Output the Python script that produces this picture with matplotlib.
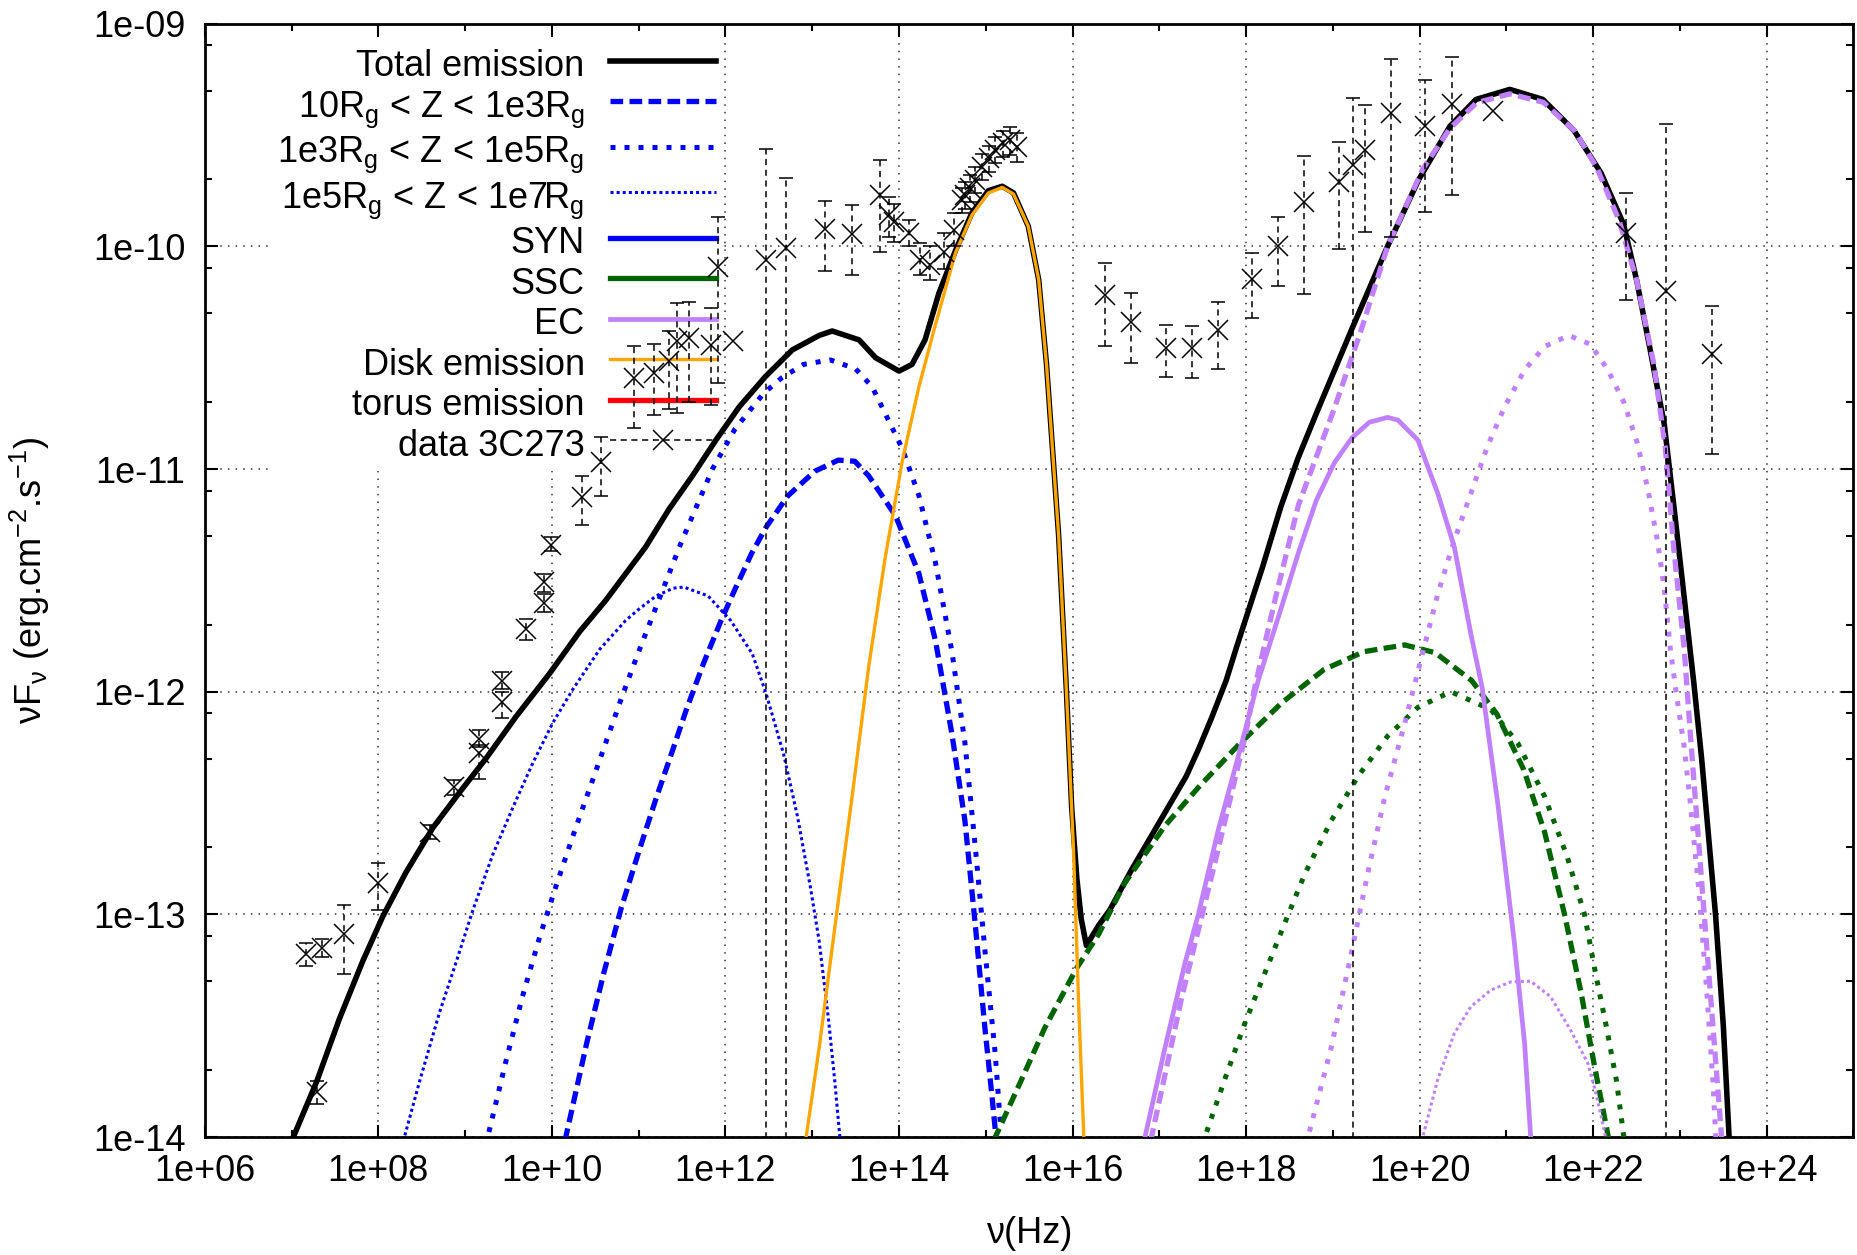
import numpy as np
import matplotlib
matplotlib.use("Agg")
import matplotlib.pyplot as plt
from matplotlib.ticker import FixedLocator, FuncFormatter, NullFormatter, LogLocator
from matplotlib.lines import Line2D

plt.rcParams['font.family'] = ['Liberation Sans', 'DejaVu Sans']
plt.rcParams['font.size'] = 26

BLUE = '#0000ff'
GREEN = '#006400'
PURPLE = '#c080ff'
ORANGE = '#ffa500'
RED = '#ff0000'

# model curves: log10(nu/Hz) and log10(nuFnu)
total_lognu = [6.98, 7.02, 7.29, 7.55, 7.82, 8.05, 8.32, 8.63, 8.94, 9.24, 9.59, 9.97,
               10.32, 10.62, 11.08, 11.35, 11.62, 11.89, 12.16, 12.46, 12.77, 13.08,
               13.23, 13.54, 13.73, 14.0, 14.15, 14.30, 14.46, 14.65, 14.84, 15.03,
               15.19, 15.32, 15.49, 15.61, 15.70, 15.84, 15.93, 15.99, 16.05, 16.10,
               16.16, 16.30, 16.43, 16.68, 17.01, 17.31, 17.45, 17.60, 17.77, 17.89,
               18.19, 18.40, 18.60, 18.81, 19.22, 19.63, 19.99, 20.35, 20.65, 21.04,
               21.42, 21.78, 22.09, 22.35, 22.50, 22.65, 22.82, 22.94, 23.05, 23.16,
               23.25, 23.33, 23.41, 23.50, 23.58]
total_logf = [-14.1, -14.0, -13.75, -13.47, -13.21, -13.01, -12.81, -12.61, -12.45, -12.30,
              -12.11, -11.92, -11.73, -11.59, -11.35, -11.18, -11.03, -10.87, -10.72,
              -10.585, -10.465, -10.40, -10.38, -10.42, -10.50, -10.56, -10.53, -10.42,
              -10.21, -10.02, -9.85, -9.75, -9.73, -9.76, -9.91, -10.15, -10.53, -11.30,
              -12.0, -12.52, -12.84, -13.02, -13.14, -13.05, -12.98, -12.80, -12.58,
              -12.38, -12.26, -12.12, -11.95, -11.80, -11.44, -11.17, -10.95, -10.75,
              -10.37, -10.0, -9.70, -9.46, -9.34, -9.295, -9.34, -9.48, -9.67, -9.90,
              -10.15, -10.45, -10.80, -11.20, -11.58, -11.96, -12.30, -12.65, -13.0,
              -13.5, -14.1]

syn1_lognu = [10.10, 10.16, 10.40, 10.60, 10.80, 11.0, 11.2, 11.35, 11.55, 11.75, 11.95,
              12.11, 12.30, 12.47, 12.72, 13.03, 13.30, 13.49, 13.65, 13.96, 14.23, 14.42,
              14.61, 14.76, 14.88, 14.99, 15.07, 15.13]
syn1_logf = [-14.1, -14.0, -13.58, -13.26, -12.97, -12.72, -12.48, -12.31, -12.08, -11.87,
             -11.68, -11.54, -11.38, -11.26, -11.12, -11.01, -10.96, -10.965, -11.03,
             -11.21, -11.47, -11.77, -12.19, -12.58, -13.05, -13.51, -13.81, -14.05]

syn2_lognu = [9.20, 9.26, 9.47, 9.66, 9.86, 10.05, 10.24, 10.43, 10.62, 10.80, 11.0, 11.25,
              11.49, 11.85, 12.11, 12.44, 12.65, 12.90, 13.21, 13.50, 13.69, 13.84, 14.04,
              14.23, 14.42, 14.61, 14.76, 14.88, 14.99, 15.11, 15.17]
syn2_logf = [-14.1, -14.0, -13.66, -13.37, -13.10, -12.87, -12.65, -12.44, -12.23, -12.03,
             -11.82, -11.57, -11.33, -11.0, -10.82, -10.66, -10.59, -10.53, -10.51, -10.55,
             -10.63, -10.75, -10.91, -11.12, -11.42, -11.82, -12.23, -12.70, -13.16,
             -13.63, -13.95]

syn3_lognu = [8.25, 8.30, 8.475, 8.705, 8.90, 9.09, 9.32, 9.55, 9.78, 10.01, 10.24, 10.55,
              10.85, 11.0, 11.20, 11.40, 11.52, 11.80, 12.06, 12.31, 12.47, 12.67, 12.83,
              12.98, 13.08, 13.19, 13.26, 13.33]
syn3_logf = [-14.1, -14.0, -13.75, -13.44, -13.21, -12.98, -12.73, -12.52, -12.32, -12.14,
             -11.99, -11.81, -11.68, -11.63, -11.57, -11.535, -11.53, -11.57, -11.68,
             -11.83, -12.01, -12.28, -12.56, -12.88, -13.12, -13.48, -13.75, -14.05]

disk_lognu = [12.90, 12.93, 13.08, 13.27, 13.46, 13.65, 13.84, 14.04, 14.23, 14.40, 14.65,
              14.84, 15.03, 15.19, 15.32, 15.49, 15.61, 15.70, 15.84, 15.93, 16.01, 16.05,
              16.07, 16.10, 16.14]
disk_logf = [-14.1, -14.0, -13.6, -13.03, -12.47, -11.89, -11.40, -10.96, -10.63, -10.38,
             -10.03, -9.86, -9.76, -9.735, -9.765, -9.91, -10.15, -10.53, -11.30, -12.0,
             -12.70, -13.16, -13.40, -13.70, -14.1]

ssc1_lognu = [15.08, 15.11, 15.38, 15.68, 16.05, 16.30, 16.60, 17.07, 17.45, 17.91, 18.41,
              18.90, 19.36, 19.83, 20.18, 20.60, 20.89, 21.20, 21.44, 21.67, 21.86, 22.01,
              22.10, 22.20]
ssc1_logf = [-14.1, -14.0, -13.77, -13.51, -13.24, -13.09, -12.86, -12.60, -12.43, -12.24,
             -12.05, -11.90, -11.82, -11.79, -11.825, -11.95, -12.10, -12.35, -12.63,
             -13.0, -13.35, -13.67, -13.85, -14.05]

ssc2_lognu = [17.48, 17.525, 17.755, 17.985, 18.215, 18.445, 18.675, 18.98, 19.29, 19.63,
              19.98, 20.36, 20.82, 21.13, 21.44, 21.70, 21.90, 22.03, 22.15, 22.27, 22.37]
ssc2_logf = [-14.1, -14.0, -13.74, -13.49, -13.265, -13.04, -12.82, -12.58, -12.38, -12.20,
             -12.07, -12.0, -12.08, -12.23, -12.47, -12.74, -13.0, -13.27, -13.5, -13.75,
             -14.05]

ec_lognu = [16.80, 16.835, 17.065, 17.295, 17.45, 17.68, 17.91, 18.14, 18.40, 18.60, 18.81,
            19.02, 19.22, 19.42, 19.63, 19.75, 19.98, 20.21, 20.40, 20.59, 20.72, 20.90,
            21.09, 21.21, 21.28, 21.31]
ec_logf = [-14.1, -14.0, -13.6, -13.22, -13.0, -12.62, -12.29, -11.95, -11.63, -11.38,
           -11.14, -10.97, -10.86, -10.79, -10.768, -10.78, -10.87, -11.11, -11.35, -11.74,
           -11.98, -12.50, -13.12, -13.58, -14.0, -14.15]

ec1_lognu = [16.86, 16.91, 17.26, 17.64, 17.99, 18.10, 18.35, 18.605, 19.015, 19.323, 19.63,
             20.04, 20.35, 20.656, 21.04, 21.426, 21.785, 22.04, 22.30, 22.50, 22.70, 22.83,
             22.93, 23.05, 23.12, 23.25, 23.37, 23.45, 23.50]
ec1_logf = [-14.1, -14.0, -13.37, -12.77, -12.20, -11.98, -11.56, -11.16, -10.73, -10.38,
            -10.0, -9.65, -9.47, -9.355, -9.315, -9.353, -9.48, -9.645, -9.885, -10.15,
            -10.53, -10.90, -11.36, -11.81, -12.19, -12.85, -13.45, -13.85, -14.1]

ec2_lognu = [18.68, 18.714, 18.98, 19.21, 19.40, 19.60, 19.83, 19.98, 20.21, 20.40, 20.59,
             20.78, 20.98, 21.21, 21.44, 21.72, 21.97, 22.17, 22.36, 22.51, 22.63, 22.74,
             22.82, 22.89, 22.97, 23.05, 23.12, 23.22, 23.31, 23.38, 23.42]
ec2_logf = [-14.1, -14.0, -13.60, -13.18, -12.82, -12.47, -12.14, -11.91, -11.56, -11.32,
            -11.11, -10.90, -10.72, -10.555, -10.45, -10.40, -10.44, -10.555, -10.705,
            -10.885, -11.09, -11.32, -11.54, -11.81, -12.04, -12.25, -12.50, -12.90,
            -13.35, -13.75, -14.05]

ec3_lognu = [20.00, 20.036, 20.21, 20.40, 20.59, 20.82, 21.05, 21.28, 21.51, 21.74, 21.94,
             22.03, 22.10, 22.17]
ec3_logf = [-14.1, -14.0, -13.74, -13.535, -13.415, -13.34, -13.303, -13.30, -13.37, -13.52,
            -13.67, -13.80, -13.92, -14.05]

# data 3C273: log10 nu, log10 nuFnu, error bar low / high ends (log10)
data_lognu = [7.17, 7.29, 7.355, 7.60, 8.00, 8.59, 8.875, 9.165, 9.165, 9.425, 9.43, 9.70,
              9.905, 9.91, 9.986, 10.346, 10.565, 10.948, 11.178, 11.35, 11.446, 11.58,
              11.83, 11.918, 12.087, 12.462, 12.694, 13.153, 13.46, 13.786, 13.89, 13.94,
              14.12, 14.246, 14.361, 14.514, 14.629, 14.725, 14.763, 14.821, 14.878,
              14.955, 15.032, 15.108, 15.204, 15.281, 15.358, 16.375, 16.673, 17.074,
              17.372, 17.675, 18.07, 18.368, 18.671, 19.067, 19.231, 19.375, 19.667,
              20.063, 20.371, 20.844, 22.374, 22.836, 23.366]
data_logf = [-13.18, -13.80, -13.15, -13.09, -12.86, -12.63, -12.43, -12.276, -12.214,
             -12.045, -11.95, -11.72, -11.60, -11.506, -11.341, -11.124, -10.967, -10.592,
             -10.57, -10.517, -10.423, -10.413, -10.443, -10.094, -10.423, -10.061,
             -10.009, -9.924, -9.945, -9.769, -9.86, -9.89, -9.942, -10.061, -10.084,
             -10.024, -9.927, -9.792, -9.769, -9.74, -9.702, -9.642, -9.605, -9.567,
             -9.537, -9.522, -9.552, -10.219, -10.338, -10.455, -10.455, -10.376,
             -10.148, -10.0, -9.799, -9.71, -9.635, -9.567, -9.403, -9.458, -9.361,
             -9.391, -9.939, -10.199, -10.483]
data_loglo = [-13.23, -13.85, -13.19, -13.27, -12.98, -12.66, -12.465, -12.39, -12.25,
              -12.12, -11.99, -11.77, -11.64, -11.55, -11.37, -11.25, -11.12, -10.817,
              -10.757, -10.73, -10.75, -10.697, -10.712, -10.615, -10.423, -15.0, -15.0,
              -10.109, -10.129, -10.024, -9.957, -9.98, -10.0, -10.13, -10.15, -10.10,
              -10.0, -9.85, -9.83, -9.80, -9.76, -9.70, -9.665, -9.625, -9.60, -9.59,
              -9.62, -10.446, -10.525, -10.585, -10.59, -10.552, -10.32, -10.177,
              -10.214, -10.013, -15.0, -9.934, -9.957, -9.844, -9.77, -9.391, -10.241,
              -15.0, -10.934]
data_loghi = [-13.13, -13.75, -13.11, -12.96, -12.77, -12.60, -12.395, -12.24, -12.17,
              -12.0, -11.91, -11.675, -11.56, -11.47, -11.305, -11.03, -10.855, -10.447,
              -10.44, -10.38, -10.255, -10.248, -10.278, -9.867, -10.423, -9.563, -9.692,
              -9.795, -9.814, -9.612, -9.777, -9.81, -9.88, -9.985, -10.0, -9.94, -9.85,
              -9.74, -9.71, -9.68, -9.645, -9.585, -9.55, -9.51, -9.48, -9.465, -9.49,
              -10.073, -10.208, -10.353, -10.357, -10.249, -10.028, -9.87, -9.594, -9.53,
              -9.335, -9.365, -9.159, -9.255, -9.149, -9.391, -9.762, -9.45, -10.268]


def p(a):
    return 10.0 ** np.array(a)


fig = plt.figure(figsize=(18.57, 12.55), dpi=100)
ax = fig.add_axes([0.1103, 0.094, 0.8878, 0.8871])
ax.set_xscale('log')
ax.set_yscale('log')
ax.set_xlim(1e6, 1e25)
ax.set_ylim(1e-14, 1e-9)

dash = (0, (2.4, 1.2))
dot = (0, (1.0, 1.8))
fine = (0, (1.0, 1.0))

h_tot, = ax.plot(p(total_lognu), p(total_logf), color='k', lw=4.0, zorder=3,
                 label='Total emission')
h_z1, = ax.plot(p(syn1_lognu), p(syn1_logf), color=BLUE, lw=3.8, ls=dash, zorder=3,
                label=r'10R$_\mathregular{g}$ < Z < 1e3R$_\mathregular{g}$')
h_z2, = ax.plot(p(syn2_lognu), p(syn2_logf), color=BLUE, lw=3.6, ls=dot, zorder=3,
                label=r'1e3R$_\mathregular{g}$ < Z < 1e5R$_\mathregular{g}$')
h_z3, = ax.plot(p(syn3_lognu), p(syn3_logf), color=BLUE, lw=2.2, ls=fine, zorder=3,
                label=r'1e5R$_\mathregular{g}$ < Z < 1e7R$_\mathregular{g}$')
ax.plot(p(ssc1_lognu), p(ssc1_logf), color=GREEN, lw=3.8, ls=dash, zorder=3)
ax.plot(p(ssc2_lognu), p(ssc2_logf), color=GREEN, lw=3.6, ls=dot, zorder=3)
h_ec, = ax.plot(p(ec_lognu), p(ec_logf), color=PURPLE, lw=3.4, zorder=3, label='EC')
ax.plot(p(ec1_lognu), p(ec1_logf), color=PURPLE, lw=3.8, ls=dash, zorder=3)
ax.plot(p(ec2_lognu), p(ec2_logf), color=PURPLE, lw=3.6, ls=dot, zorder=3)
ax.plot(p(ec3_lognu), p(ec3_logf), color=PURPLE, lw=2.2, ls=fine, zorder=3)
h_disk, = ax.plot(p(disk_lognu), p(disk_logf), color=ORANGE, lw=2.4, zorder=3.1,
                  label='Disk emission')

# legend-only entries (curves lie below the plotted range)
h_syn, = ax.plot([], [], color=BLUE, lw=3.8, label='SYN')
h_ssc, = ax.plot([], [], color=GREEN, lw=3.8, label='SSC')
h_torus, = ax.plot([], [], color=RED, lw=3.8, label='torus emission')

nu = p(data_lognu)
f = p(data_logf)
lo = p(data_loglo)
hi = p(data_loghi)
m = hi > lo
eb = ax.errorbar(nu[m], f[m], yerr=[f[m] - lo[m], hi[m] - f[m]], fmt='none', ecolor='k',
                 elinewidth=1.1, capsize=5, capthick=1.1, zorder=4)
eb[2][0].set_linestyle((0, (4, 3)))
ax.plot(nu, f, ls='none', marker='x', color='k', ms=14, mew=1.1, zorder=5)
h_data = Line2D([], [], color='k', ls=(0, (4, 3)), lw=1.1, marker='x', ms=14, mew=1.1)

# axes, ticks, grid
fmt = FuncFormatter(lambda v, pos: f"1e{int(round(np.log10(v))):+03d}")
ax.xaxis.set_major_locator(FixedLocator([10.0 ** e for e in range(6, 25, 2)]))
ax.xaxis.set_minor_locator(FixedLocator([10.0 ** e for e in range(7, 26, 2)]))
ax.xaxis.set_major_formatter(fmt)
ax.xaxis.set_minor_formatter(NullFormatter())
ax.yaxis.set_major_locator(FixedLocator([10.0 ** e for e in range(-14, -8)]))
ax.yaxis.set_minor_locator(LogLocator(base=10, subs=(2.0, 5.0, 8.0)))
ax.yaxis.set_major_formatter(fmt)
ax.yaxis.set_minor_formatter(NullFormatter())
ax.tick_params(which='both', direction='in', top=True, right=True, width=1.5)
ax.tick_params(which='major', length=9)
ax.tick_params(which='minor', length=5)
ax.tick_params(axis='x', which='major', pad=12, labelsize=26)
ax.tick_params(axis='y', which='major', pad=14, labelsize=26)
for s in ax.spines.values():
    s.set_linewidth(2.0)
ax.set_axisbelow(True)
ax.grid(True, which='major', color='#333333', ls=(0, (1, 4)), lw=1.1)

ax.set_xlabel('ν(Hz)', fontsize=26)
ax.xaxis.set_label_coords(0.5, -0.071)
ax.set_ylabel('νF$_\\mathregular{ν}$ (erg.cm$^\\mathregular{-2}$.s$^\\mathregular{-1}$)',
              fontsize=26)
ax.yaxis.set_label_coords(-0.093, 0.5)

handles = [h_tot, h_z1, h_z2, h_z3, h_syn, h_ssc, h_ec, h_disk, h_torus, h_data]
labels = [h.get_label() for h in handles[:-1]] + ['data 3C273']
leg = ax.legend(handles, labels, loc='upper right', bbox_to_anchor=(0.3143, 0.987),
                markerfirst=False, frameon=True, fancybox=False, framealpha=1,
                edgecolor='none', facecolor='white', handlelength=2.94,
                handletextpad=0.69, borderpad=0.2, labelspacing=0.05, handleheight=1.2,
                borderaxespad=0, fontsize=26)
leg.set_zorder(2.5)

fig.savefig('out.png', dpi=100)
